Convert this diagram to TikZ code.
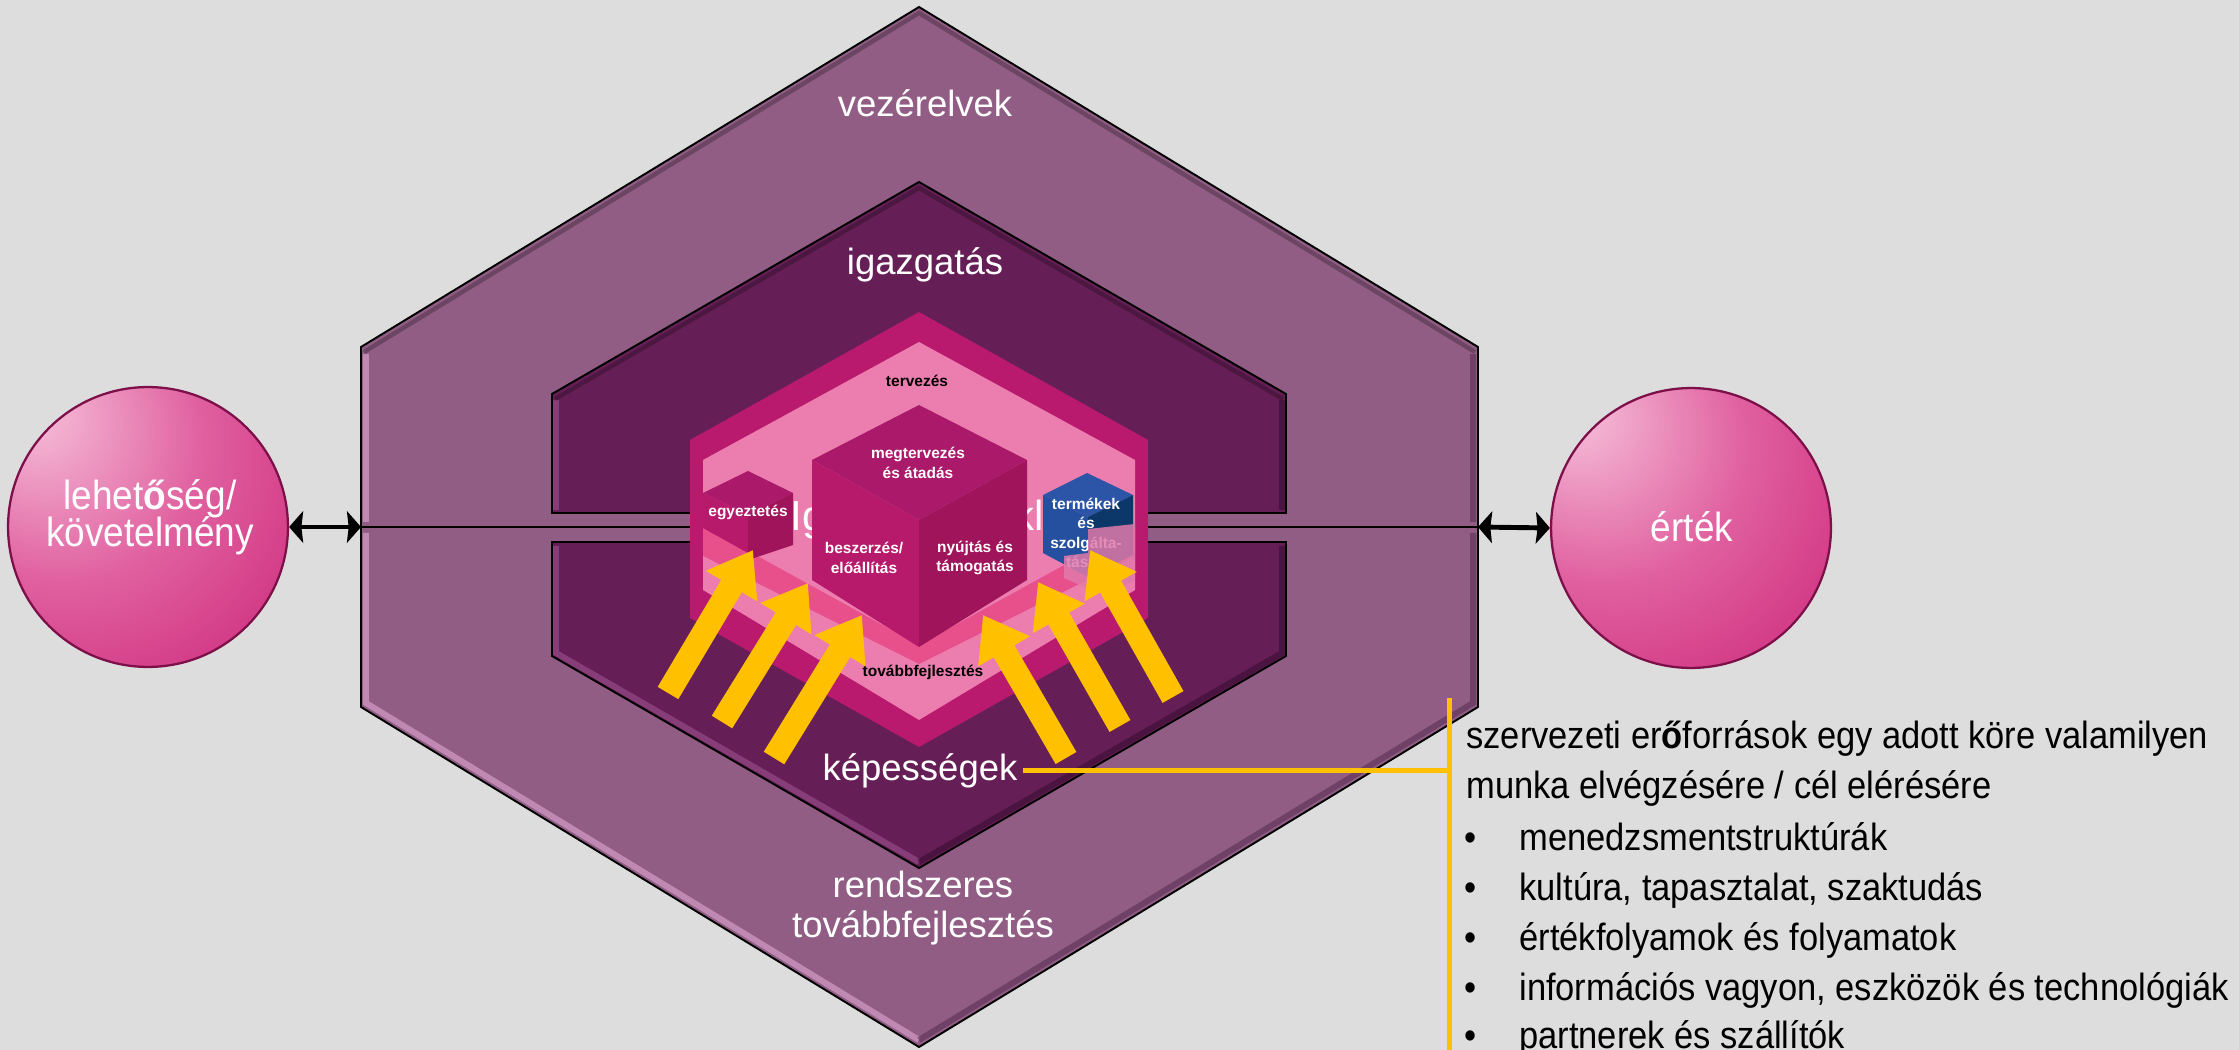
\documentclass[tikz,border=0pt]{standalone}
\usepackage{fontspec}
\setmainfont{Liberation Sans}
\usepackage{graphicx}
\usetikzlibrary{arrows.meta}
\definecolor{bgc}{HTML}{DDDDDD}
\definecolor{outerc}{HTML}{915D85}
\definecolor{outerlt}{HTML}{CB95C0}
\definecolor{outerdk}{HTML}{5A2F52}
\definecolor{igazc}{HTML}{661F56}
\definecolor{igazlt}{HTML}{8E4581}
\definecolor{igazdk}{HTML}{3A0B31}
\definecolor{magc}{HTML}{B91A6E}
\definecolor{pinkc}{HTML}{EC7DAF}
\definecolor{bandc}{HTML}{E8508C}
\definecolor{cubetop}{HTML}{AB1A6A}
\definecolor{cubeleft}{HTML}{B71A6B}
\definecolor{cuberight}{HTML}{9F145B}
\definecolor{bluetop}{HTML}{2C55A7}
\definecolor{blueleft}{HTML}{2550A0}
\definecolor{blueright}{HTML}{0C3869}
\definecolor{overc}{HTML}{E07AAB}
\definecolor{arrowc}{HTML}{FFC000}
\definecolor{btnL}{HTML}{F7C4DD}
\definecolor{btnM}{HTML}{E0609F}
\definecolor{btnD}{HTML}{C81A72}
\definecolor{rimc}{HTML}{7D1049}
\pgfdeclareradialshading{btnshade}{\pgfpoint{-22bp}{22bp}}{color(0bp)=(btnL); color(25bp)=(btnM); color(55bp)=(btnD); color(80bp)=(btnD)}
\newcommand{\tallbox}[1]{\scalebox{1}[1.1]{#1}}
\tikzset{
 btn/.style={circle, minimum size=159.3pt, inner sep=0pt, shade, shading=btnshade, draw=rimc, line width=1.3pt},
 hexlab/.style={text=white, font=\fontsize{20.77}{22.76}\selectfont, inner sep=0pt, align=center},
 clab/.style={text=white, font=\fontsize{21.05}{21.05}\selectfont, inner sep=0pt, anchor=base},
 smallw/.style={text=white, font=\fontsize{8.82}{11}\selectfont\bfseries, inner sep=0pt, align=center},
 smallk/.style={smallw, text=black},
 ghost/.style={text=white, font=\fontsize{23.9}{24}\selectfont, inner sep=0pt},
 rtext/.style={text=black, font=\fontsize{19.63}{28}\selectfont, inner sep=0pt, anchor=base west},
 dbl/.style={line width=2.8pt, {Stealth[length=8pt,width=18pt,inset=1pt]}-{Stealth[length=8pt,width=18pt,inset=1pt]}},
 yarr/.style={draw=arrowc, line width=13.66pt, -{Triangle[length=23.9pt,width=32.4pt]}},
 ylink/.style={draw=arrowc, line width=2.85pt},
 hexline/.style={draw=black, line width=1.1pt, line join=miter},
 bevlt/.style={line width=3.4pt, opacity=.8},
 bevdk/.style={line width=3.4pt, opacity=.6},
}
\begin{document}
\begin{tikzpicture}[x=0.02cm, y=-0.02cm]
\useasboundingbox (0,0) rectangle (2239,1050);
\fill[bgc] (0,0) rectangle (2239,1050);

% outer hexagon (vezérelvek / rendszeres továbbfejlesztés)
\fill[outerc] (361,347) -- (919,7) -- (1478,347) -- (1478,707) -- (919,1047) -- (361,707) -- cycle;
\draw[outerlt, bevlt] (366,354) -- (366,522);
\draw[outerlt, bevlt] (366,533) -- (366,703) -- (919,1040);
\draw[outerdk, bevdk] (1473,354) -- (1473,522);
\draw[outerdk, bevdk] (1473,533) -- (1473,703) -- (919,1040);
\draw[black, line width=2.5pt, opacity=.25] (364,352) -- (919,13) -- (1475,352);
\draw[hexline] (361,347) -- (919,7) -- (1478,347) -- (1478,707) -- (919,1047) -- (361,707) -- cycle;
\draw[black, line width=1.3pt] (361,527) -- (1478,527);

% igazgatás hexagon, two halves
\fill[igazc] (552,513) -- (552,394) -- (919,182) -- (1286,394) -- (1286,513) -- cycle;
\fill[igazc] (552,542) -- (552,656) -- (919,868) -- (1286,656) -- (1286,542) -- cycle;
\draw[igazlt, bevlt] (556,400) -- (556,510);
\draw[igazlt, bevlt] (556,546) -- (556,653) -- (919,862);
\draw[igazdk, bevdk] (1282,400) -- (1282,510);
\draw[igazdk, bevdk] (1282,546) -- (1282,653) -- (919,862);
\draw[black, line width=2.5pt, opacity=.25] (555,399) -- (919,188) -- (1283,399);
\draw[hexline] (552,513) -- (552,394) -- (919,182) -- (1286,394) -- (1286,513) -- cycle;
\draw[hexline] (552,542) -- (552,656) -- (919,868) -- (1286,656) -- (1286,542) -- cycle;

% inner magenta and pink hexagons
\fill[magc] (690,440) -- (919,312) -- (1148,440) -- (1148,618) -- (919,747) -- (690,618) -- cycle;
\fill[pinkc] (703,460) -- (919,342) -- (1135,460) -- (1135,590) -- (919,720) -- (703,590) -- cycle;
\fill[bandc] (703,526) -- (919,645) -- (1135,526) -- (1135,556) -- (919,664) -- (703,556) -- cycle;

% small cube (egyeztetés)
\fill[cubetop] (748,471) -- (703,493) -- (748,515) -- (793,493) -- cycle;
\fill[cubeleft] (703,493) -- (748,515) -- (748,553) -- (703,528) -- cycle;
\fill[cuberight] (748,515) -- (793,493) -- (793,545) -- (748,560) -- cycle;

% partly hidden white text
\node[ghost, anchor=base west] (gl) at (790,531) {Ig};
\node[ghost, anchor=base east] (gr) at (1044,531) {kl};

% big cube
\fill[cubetop] (919,405) -- (812,460) -- (919,520) -- (1027,460) -- cycle;
\fill[cubeleft] (812,460) -- (919,520) -- (919,647) -- (812,580) -- cycle;
\fill[cuberight] (919,520) -- (1027,460) -- (1027,580) -- (919,647) -- cycle;

% blue cube
\fill[bluetop] (1087,473) -- (1043,495) -- (1088,517) -- (1133,495) -- cycle;
\fill[blueleft] (1043,495) -- (1088,517) -- (1088,577) -- (1043,553) -- cycle;
\fill[blueright] (1088,517) -- (1133,495) -- (1133,555) -- (1088,577) -- cycle;

% small labels
\node[smallk, anchor=base] (terv) at (917,387) {tervezés};
\node[smallw] (megt) at (918,463) {megtervezés\\és átadás};
\node[smallw, anchor=base] (egy) at (748,517) {egyeztetés};
\node[smallw] (besz) at (864,558) {beszerzés/\\előállítás};
\node[smallw] (nyuj) at (975,558) {nyújtás és\\támogatás};
\node[smallw] (term) at (1086,533) {termékek\\és\\szolgálta-\\tás\hspace*{10pt}};
\fill[overc, opacity=.85] (1088,529) -- (1135,524) -- (1135,580) -- (1105,596) -- (1064,578) -- (1064,556) -- (1088,553) -- cycle;
\node[smallk, anchor=base] (tovf) at (923,677) {továbbfejlesztés};

% hexagon labels
\node[hexlab, anchor=base] (vez) at (925,117) {vezérelvek};
\node[hexlab, anchor=base] (igaz) at (925,275) {igazgatás};
\node[hexlab, anchor=base, inner xsep=3pt] (kep) at (920,780) {képességek};
\node[hexlab] (rend) at (923,908) {rendszeres\\továbbfejlesztés};

% yellow arrows
\coordinate (a1t) at (668,693); \coordinate (a1h) at (753,550);
\coordinate (a2t) at (722,722); \coordinate (a2h) at (808,583);
\coordinate (a3t) at (774,758); \coordinate (a3h) at (862,615);
\coordinate (a4t) at (1066,758); \coordinate (a4h) at (983,615);
\coordinate (a5t) at (1120,726); \coordinate (a5h) at (1038,582);
\coordinate (a6t) at (1173,697); \coordinate (a6h) at (1090,550);
\draw[yarr] (a1t) -- (a1h);
\draw[yarr] (a2t) -- (a2h);
\draw[yarr] (a3t) -- (a3h);
\draw[yarr] (a4t) -- (a4h);
\draw[yarr] (a5t) -- (a5h);
\draw[yarr] (a6t) -- (a6h);

% circles
\node[btn] (lc) at (148,527) {};
\node[btn] (rc) at (1691,528) {};
\node[clab] (lct1) at (150,510) {\tallbox{lehet{\bfseries ő}ség/}};
\node[clab] (lct2) at (150,547) {\tallbox{követelmény}};
\node[clab] (rct) at (1692,542) {\tallbox{érték}};
\coordinate (hexL) at (361,527);
\coordinate (hexR) at (1478,527);
\draw[dbl] (lc.east) -- (hexL);
\draw[dbl] (hexR) -- (rc.west);

% callout
\coordinate (vtop) at (1449,698);
\coordinate (vbot) at (1449,1060);
\draw[ylink] (vtop) -- (vbot);
\draw[ylink] (kep.east) -- (kep.east -| vtop);

\node[rtext] (r1) at (1466,748) {\tallbox{szervezeti er{\bfseries ő}források egy adott köre valamilyen}};
\node[rtext] (r2) at (1466,798) {\tallbox{munka elvégzésére / cél elérésére}};
\node[rtext] (b1) at (1464,850) {\tallbox{•}};
\node[rtext] (r3) at (1519,850) {\tallbox{menedzsmentstruktúrák}};
\node[rtext] (b2) at (1464,900) {\tallbox{•}};
\node[rtext] (r4) at (1519,900) {\tallbox{kultúra, tapasztalat, szaktudás}};
\node[rtext] (b3) at (1464,950) {\tallbox{•}};
\node[rtext] (r5) at (1519,950) {\tallbox{értékfolyamok és folyamatok}};
\node[rtext] (b4) at (1464,1000) {\tallbox{•}};
\node[rtext] (r6) at (1519,1000) {\tallbox{információs vagyon, eszközök és technológiák}};
\node[rtext] (b5) at (1464,1048) {\tallbox{•}};
\node[rtext] (r7) at (1519,1048) {\tallbox{partnerek és szállítók}};
\end{tikzpicture}
\end{document}
